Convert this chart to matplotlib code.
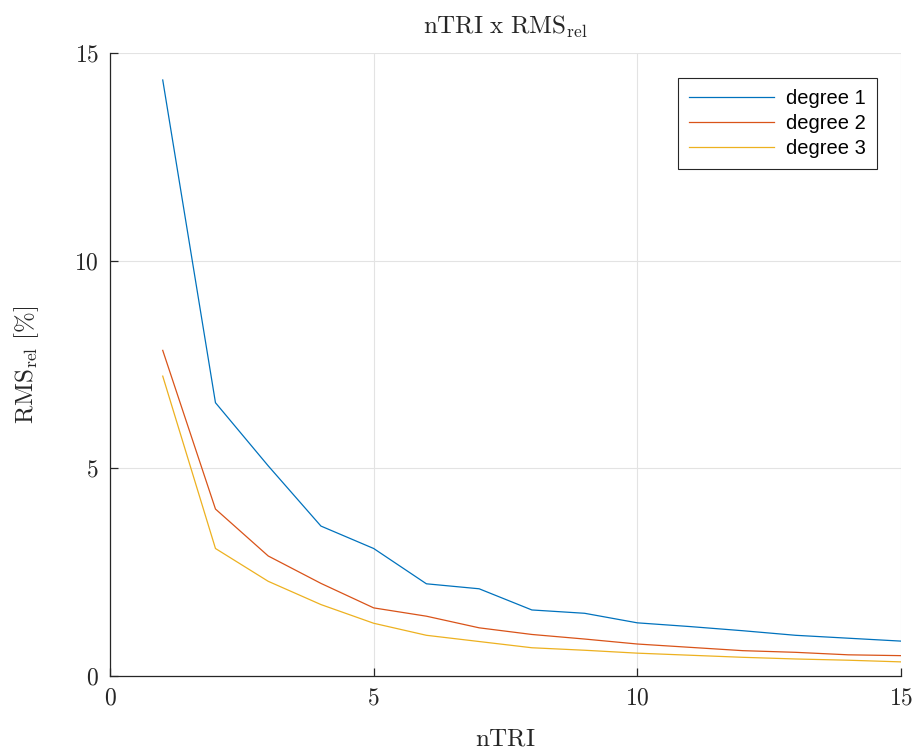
import matplotlib
matplotlib.use('Agg')
import matplotlib.pyplot as plt

plt.rcParams['mathtext.fontset'] = 'cm'
plt.rcParams['font.family'] = 'serif'
plt.rcParams['font.serif'] = ['cmr10']
plt.rcParams['axes.formatter.use_mathtext'] = True

n_tri = list(range(1, 16))
deg1 = [14.35, 6.58, 5.06, 3.61, 3.07, 2.22, 2.10, 1.59, 1.51, 1.28, 1.19, 1.09, 0.98, 0.91, 0.84]
deg2 = [7.84, 4.02, 2.89, 2.23, 1.64, 1.44, 1.16, 1.00, 0.89, 0.77, 0.69, 0.61, 0.57, 0.51, 0.49]
deg3 = [7.22, 3.07, 2.28, 1.72, 1.27, 0.98, 0.83, 0.68, 0.62, 0.55, 0.50, 0.45, 0.41, 0.38, 0.34]
labels = ['degree 1', 'degree 2', 'degree 3']
colors = ['#0072BD', '#D95319', '#EDB120']

fig = plt.figure(figsize=(9.15, 7.54), dpi=100)
ax = fig.add_axes([110 / 915, 1 - 676 / 754, 791 / 915, 623 / 754])

for ys, lab, c in zip([deg1, deg2, deg3], labels, colors):
    ax.plot(n_tri, ys, color=c, lw=0.9, label=lab)

ax.set_xlim(0, 15)
ax.set_ylim(0, 15)
ax.set_xticks([0, 5, 10, 15])
ax.set_yticks([0, 5, 10, 15])
ax.grid(True, color='#e3e3e3', lw=0.8)
ax.set_axisbelow(True)
for s in ['top', 'right']:
    ax.spines[s].set_visible(False)
for s in ['left', 'bottom']:
    ax.spines[s].set_color('#262626')
    ax.spines[s].set_linewidth(0.9)
ax.tick_params(direction='in', length=6, width=0.9, colors='#262626',
               labelsize=17, pad=8)

ax.set_title(r'$\mathrm{nTRI\ x\ RMS_{rel}}$', fontsize=18, color='#262626', pad=14)
ax.set_xlabel(r'$\mathrm{nTRI}$', fontsize=18, color='#262626', labelpad=14)
ax.set_ylabel(r'$\mathrm{RMS_{rel}\ [\%]}$', fontsize=18, color='#262626', labelpad=24)

leg = ax.legend(loc='upper right', bbox_to_anchor=(0.9697, 0.9599), borderaxespad=0,
                fancybox=False, edgecolor='#262626', framealpha=1, handlelength=4.2,
                prop={'family': 'Liberation Sans', 'size': 14.5},
                borderpad=0.55, labelspacing=0.3, handletextpad=0.6)
leg.get_frame().set_linewidth(0.8)

fig.savefig('out.png', dpi=100)
